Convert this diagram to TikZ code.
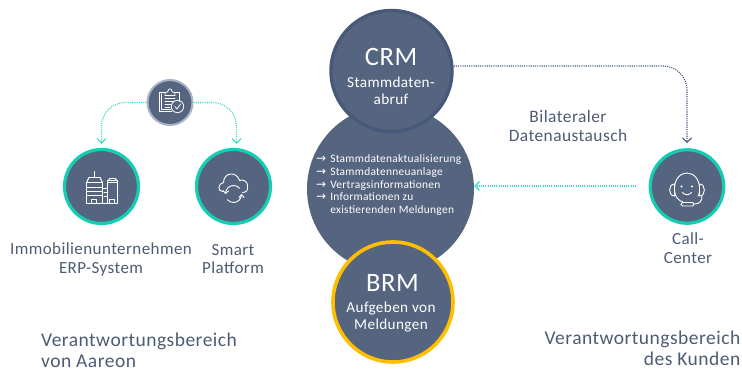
\documentclass[tikz,border=0pt]{standalone}
\usepackage{fontspec}
\setmainfont{Carlito}[LetterSpace=2.5]
\usetikzlibrary{arrows.meta,calc}
\definecolor{slate}{HTML}{56657F}
\definecolor{slatedark}{HTML}{47597A}
\definecolor{teal}{HTML}{14CDB2}
\definecolor{tealdot}{HTML}{38D8C4}
\definecolor{gold}{HTML}{FFBE00}
\definecolor{halo}{HTML}{A9B2C4}
\definecolor{ink}{HTML}{4D5B73}
\newcommand{\arw}{{\fontspec{DejaVu Sans}\fontsize{12}{12.5}\selectfont→}}
\tikzset{
 x=1pt,y=-1pt,
 disc/.style={circle,fill=slate,inner sep=0pt,minimum size=#1,align=center,text=white},
 ring/.style={disc=#1,draw=teal,line width=3.2pt},
 label/.style={text=ink,align=center,font=\fontsize{17}{18.7}\selectfont,inner sep=0pt},
 area/.style={text=ink,font=\fontsize{19.5}{21}\selectfont,inner sep=0pt},
 flow/.style={tealdot,line width=1.1pt,dash pattern=on 1.1pt off 1.1pt,rounded corners=24pt,shorten >=1pt,-{Straight Barb[length=4.5pt,width=9pt,line width=1.1pt]}},
 flowdark/.style={flow,draw=slatedark},
 icon/.style={white,line width=0.9pt,line cap=round,line join=round},
 thinicon/.style={icon,line width=0.75pt},
 big/.style={text=white,font=\fontsize{26.5}{30}\selectfont,inner sep=0pt},
 small/.style={text=white,font=\fontsize{15.2}{17.3}\selectfont,align=center,inner sep=0pt},
}
\begin{document}
\begin{tikzpicture}
\useasboundingbox (0,0) rectangle (742,370);
% main circles
\node[disc=167pt] (main) at (390.5,189) {};
\node[disc=121pt,draw=slatedark,line width=3.4pt] (crm) at (391.5,71) {};
\node[disc=120pt,draw=gold,line width=3.6pt] (brm) at (393,302) {};
\node[disc=45pt,draw=halo,line width=2pt] (check) at (170,102.5) {};
\node[ring=74pt] (erp) at (101.5,186.5) {};
\node[ring=74pt] (smart) at (233.5,186.5) {};
\node[ring=73.5pt] (call) at (687,186.5) {};
% circle text
\node[big] (crmt) at (391,57) {CRM};
\node[small] (crms) at (391,91) {Stammdaten-\\abruf};
\node[big] (brmt) at (392.5,282.5) {BRM};
\node[small] (brms) at (391,317) {Aufgeben von\\Meldungen};
\node[text=white,font=\fontsize{11.4}{12.6}\selectfont,align=left,inner sep=0pt,anchor=west] (list) at (316,185.5) {%
\renewcommand{\arraystretch}{1}%
\begin{tabular}{@{}l@{\hspace{4pt}}l@{}}
\arw & Stammdatenaktualisierung\\
\arw & Stammdatenneuanlage\\
\arw & Vertragsinformationen\\
\arw & Informationen zu\\
 & existierenden Meldungen
\end{tabular}};
% labels
\node[label] (erpl) at (101,259.5) {Immobilienunternehmen\\ERP-System};
\node[label] (smartl) at (233,259) {Smart\\Platform};
\node[label] (calll) at (688,248) {Call-\\Center};
\node[label,font=\fontsize{17.4}{19}\selectfont] (bilat) at (568,126.5) {Bilateraler\\Datenaustausch};
\node[area,align=left,anchor=west] (aareon) at (41,350) {Verantwortungsbereich\\von Aareon};
\node[area,align=right,anchor=east] (kunde) at (740.5,348.5) {Verantwortungsbereich\\des Kunden};
% connectors
\draw[flow] (check.west) -| ($(erp.north)+(0,-3)$);
\draw[flow] (check.east) -| ($(smart.north)+(3,-3)$);
\draw[flowdark] (crm.east |- 0,66) -| ($(call.north)+(0,-4)$);
\coordinate (fromcall) at (636,186);
\draw[flow,rounded corners=0pt,shorten >=0pt] (fromcall) -- (main.east |- fromcall);
% clipboard icon
\begin{scope}[shift={(170,102.5)},thinicon]
\draw (-4,-10.5) -- (-10.5,-10.5) -- (-10.5,9) -- (2,9);
\draw (-8.5,-8.5) -- (-8.5,7) -- (1,7);
\draw (4,-10.5) -- (9,-10.5) -- (9,-1);
\draw (-5,-7) -- (-5,-10) -- (-2.5,-10.5) -- (-1,-13.5) -- (1,-13.5) -- (2.5,-10.5) -- (5,-10) -- (5,-7) -- cycle;
\draw (-5,-4) -- (5,-4) (-5,-1) -- (4,-1) (-5,2) -- (1,2) (-5,5) -- (0,5);
\draw (7.5,4) circle (6.2pt);
\draw (5,4) -- (7,6.5) -- (10.5,1.5);
\end{scope}
% building icon
\begin{scope}[shift={(101.5,189.5)},icon]
\draw (-15,-7) -- (-15,14) -- (16,14) -- (16,-7);
\draw (-15,-7) -- (-12.5,-12) -- (-1.5,-12) -- (1,-7) -- cycle;
\draw (-7,-12) -- (-7,-18);
\draw (1,-7) -- (1,14);
\draw (-15,-2) -- (1,-2) (-15,2) -- (1,2) (-15,6) -- (1,6);
\draw (-10,14) -- (-10,10) -- (-5.5,10) -- (-5.5,14);
\draw (1,-1) -- (6,-1) -- (6,14);
\draw (6,-9) -- (16,-9) -- (16,-7) -- (6,-7) -- cycle (6,-7) -- (6,-1);
\draw (7,-9) -- (8,-11) -- (14,-11) -- (15,-9);
\draw (2.5,3) -- (5,3) (2.5,7) -- (5,7);
\draw (8,14) -- (8,10) -- (12.5,10) -- (12.5,14);
\end{scope}
% cloud sync icon
\begin{scope}[shift={(233.5,188.5)},icon]
\draw (-11,3) .. controls (-16,3) and (-16,-5) .. (-10,-6) .. controls (-10,-16) and (3,-18) .. (6,-8) .. controls (10,-10) and (15,-6) .. (14,-2) .. controls (15,2) and (12,4) .. (9,4);
\draw (-8,5) arc[start angle=180,end angle=40,radius=8pt];
\draw (8,6) arc[start angle=0,end angle=-140,radius=8pt];
\draw (-10.5,2) -- (-8,5) -- (-5,2.5);
\draw (5.5,9) -- (8,6) -- (10.5,9);
\end{scope}
% headset face icon
\begin{scope}[shift={(687,189)},icon]
\draw (-12.5,2) .. controls (-14,-22) and (14,-22) .. (12.5,2);
\draw (-12.5,2) .. controls (-12,8) and (-8,12) .. (-4,13);
\draw (12.5,2) .. controls (12.5,4) and (12,6) .. (11,7);
\draw (-12.5,-5) .. controls (-19,-5) and (-19,7) .. (-12.5,7) -- cycle;
\draw (12.5,-5) .. controls (19,-5) and (19,7) .. (12.5,7) -- cycle;
\fill[white] (-5.5,-2.5) circle (1.1pt) (5,-2.5) circle (1.1pt);
\draw (-4.5,3.5) .. controls (-2,6.5) and (2,6.5) .. (4.5,3.5);
\draw (15,7) .. controls (15,12) and (13,15) .. (7,15);
\draw[rounded corners=1.5pt] (-6,13.5) rectangle (7,17);
\end{scope}
\end{tikzpicture}
\end{document}
